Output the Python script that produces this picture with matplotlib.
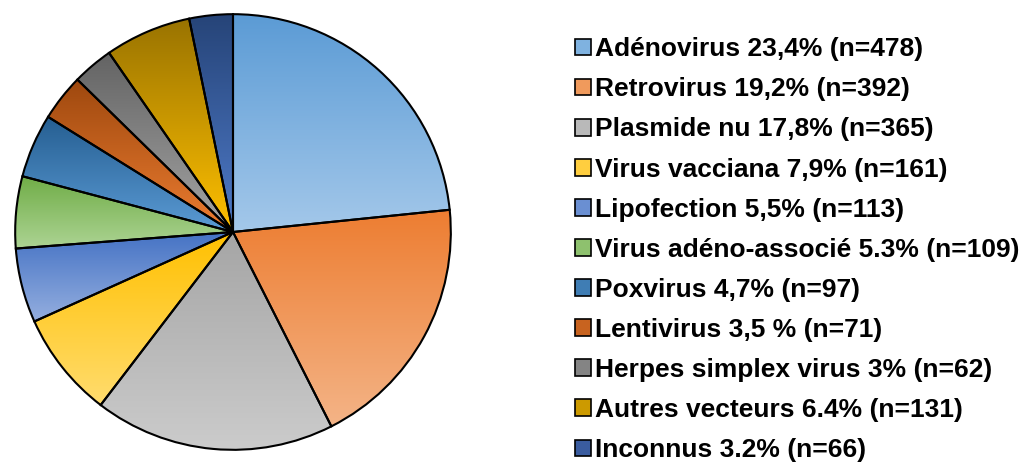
import numpy as np
import matplotlib
matplotlib.use('Agg')
import matplotlib.pyplot as plt
from matplotlib.colors import LinearSegmentedColormap
from matplotlib.patches import Patch

# Data
labels = ['Adénovirus 23,4% (n=478)', 'Retrovirus 19,2% (n=392)', 'Plasmide nu 17,8% (n=365)',
          'Virus vacciana 7,9% (n=161)', 'Lipofection 5,5% (n=113)',
          'Virus adéno-associé 5.3% (n=109)', 'Poxvirus 4,7% (n=97)', 'Lentivirus 3,5 % (n=71)',
          'Herpes simplex virus 3% (n=62)', 'Autres vecteurs 6.4% (n=131)', 'Inconnus 3.2% (n=66)']
counts = [478, 392, 365, 161, 113, 109, 97, 71, 62, 131, 66]

# gradient colours per slice (top, bottom)
top_colors = ['#5B9BD5', '#ED7D31', '#A5A5A5', '#FFC000', '#4472C4', '#70AD47',
              '#255E91', '#9E480E', '#636363', '#997300', '#264478']
bottom_colors = ['#A4C8EA', '#F4B487', '#CCCCCC', '#FFDC6E', '#94AEDF', '#ADD494',
                 '#5B9BD5', '#ED7D31', '#A5A5A5', '#FFC000', '#4F7BC9']
legend_colors = ['#7FB2E0', '#F09A5C', '#B9B9B9', '#FFCE3F', '#6A8FD2', '#8EC16E',
                 '#3F7DB4', '#C8631F', '#848484', '#CC9A00', '#3A5C9F']

fig = plt.figure(figsize=(10.28, 4.63), dpi=100)
ax = fig.add_axes([13 / 1028, 11 / 463, 440 / 1028, 440 / 463])

wedges, _ = ax.pie(counts, startangle=90, counterclock=False, radius=1,
                   wedgeprops=dict(facecolor='none', edgecolor='black', linewidth=1.5))

# vertical gradient fill inside each slice
grad = np.linspace(0, 1, 256).reshape(-1, 1)
for w, c0, c1 in zip(wedges, top_colors, bottom_colors):
    pts = w.get_patch_transform().transform(w.get_path().vertices)
    x0, x1 = pts[:, 0].min(), pts[:, 0].max()
    y0, y1 = pts[:, 1].min(), pts[:, 1].max()
    cmap = LinearSegmentedColormap.from_list('g', [c1, c0])
    im = ax.imshow(grad, cmap=cmap, extent=[x0, x1, y0, y1], origin='lower',
                   aspect='auto', zorder=w.get_zorder() - 0.5, interpolation='bilinear')
    im.set_clip_path(w)

ax.set_xlim(-1.01, 1.01)
ax.set_ylim(-1.01, 1.01)
ax.set_aspect('equal')
ax.axis('off')

handles = [Patch(facecolor=c, edgecolor='black', linewidth=1.2) for c in legend_colors]
fig.legend(handles, labels, loc='center left', bbox_to_anchor=(575 / 1028, 0.4605),
           frameon=False, handlelength=0.6, handleheight=0.6, handletextpad=0.15,
           labelspacing=0.61, borderaxespad=0, borderpad=0,
           prop=dict(family='Liberation Sans', weight='bold', size=19))

fig.savefig('out.png', dpi=100)
